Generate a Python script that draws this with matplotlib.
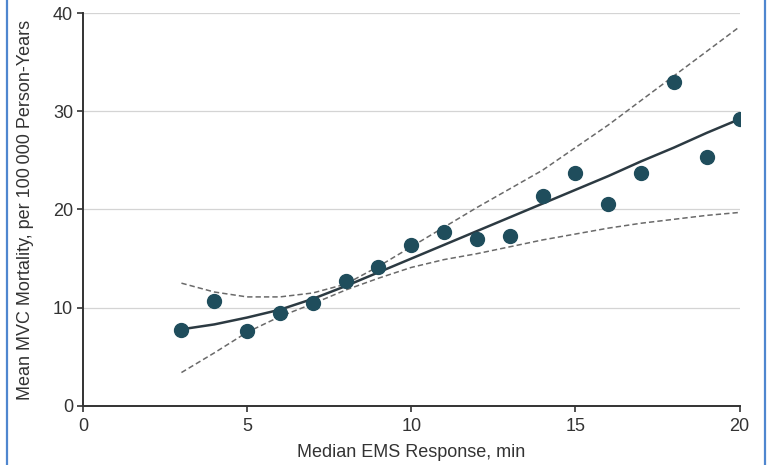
import matplotlib.pyplot as plt
from matplotlib.lines import Line2D

plt.rcParams['font.family'] = ['Liberation Sans', 'DejaVu Sans']

response_min = [3, 4, 5, 6, 7, 8, 9, 10, 11, 12, 13, 14, 15, 16, 17, 18, 19, 20]
mortality = [7.7, 10.7, 7.6, 9.5, 10.5, 12.7, 14.1, 16.4, 17.7, 17.0, 17.3,
             21.4, 23.7, 20.6, 23.7, 33.0, 25.3, 29.2]
fit = [7.8, 8.3, 9.0, 9.8, 10.9, 12.2, 13.6, 15.0, 16.4, 17.8, 19.2, 20.6,
       22.0, 23.4, 24.9, 26.3, 27.8, 29.2]
ci_upper = [12.5, 11.6, 11.1, 11.1, 11.5, 12.4, 14.2, 16.2, 18.2, 20.2, 22.1,
            24.0, 26.3, 28.6, 31.1, 33.6, 36.1, 38.6]
ci_lower = [3.4, 5.4, 7.5, 9.1, 10.4, 11.8, 13.0, 14.1, 14.9, 15.5, 16.2, 16.9,
            17.5, 18.1, 18.6, 19.0, 19.4, 19.7]

x_ticks = [0, 5, 10, 15, 20]
y_ticks = [0, 10, 20, 30, 40]

fig = plt.figure(figsize=(7.68, 4.65), dpi=100)
ax = fig.add_axes([0.108, 0.127, 0.855, 0.845])

for y in y_ticks[1:]:
    ax.plot([0, 20], [y, y], color='#d4d4d4', lw=0.9, zorder=0)

ax.plot(response_min, ci_upper, ls=(0, (3.5, 2)), color='#6a6a6a', lw=1.1, zorder=2)
ax.plot(response_min, ci_lower, ls=(0, (3.5, 2)), color='#6a6a6a', lw=1.1, zorder=2)
ax.plot(response_min, fit, color='#2c3a42', lw=1.8, zorder=3)
ax.plot(response_min, mortality, 'o', color='#1f4d5c', ms=10, zorder=4)

ax.set_xlim(0, 20)
ax.set_ylim(0, 40)
ax.set_xticks(x_ticks)
ax.set_yticks(y_ticks)
for side in ['top', 'right']:
    ax.spines[side].set_visible(False)
for side in ['left', 'bottom']:
    ax.spines[side].set_color('#333333')
    ax.spines[side].set_linewidth(1.4)
ax.tick_params(direction='out', length=4, width=1.2, color='#333333',
               labelsize=13, labelcolor='#333333', pad=3)
ax.tick_params(axis='x', pad=5)

ax.set_xlabel('Median EMS Response, min', fontsize=13, color='#333333', labelpad=6)
ax.set_ylabel('Mean MVC Mortality, per 100\u2009000 Person-Years', fontsize=13,
              color='#333333', labelpad=14)
ax.patch.set_alpha(0)

# blue side borders of the figure box
for xf in [7 / 768, 765 / 768]:
    fig.add_artist(Line2D([xf, xf], [0, 1], transform=fig.transFigure,
                          color='#4f86cf', lw=1.6))

fig.savefig('out.png', dpi=100)
